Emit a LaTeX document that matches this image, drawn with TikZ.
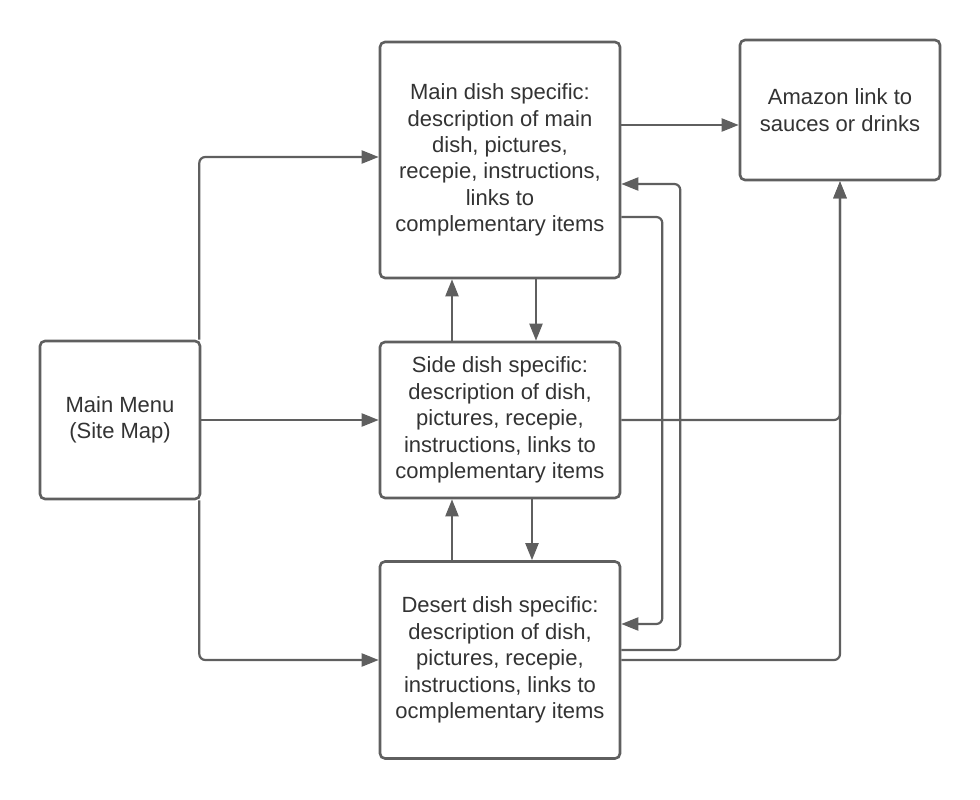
\documentclass[tikz,border=0pt]{standalone}
\usepackage{fontspec}
\setmainfont{Liberation Sans}
\usetikzlibrary{arrows.meta}
\definecolor{linegray}{HTML}{5F5F5F}
\definecolor{textgray}{HTML}{333333}
\begin{document}
\begin{tikzpicture}[x=1pt, y=-1pt,
    box/.style={draw=linegray, line width=2.6pt, rounded corners=5pt, fill=white, align=center, text=textgray, font=\fontsize{22}{26.4}\selectfont, inner sep=0pt},
    link/.style={draw=linegray, line width=2.2pt, rounded corners=6pt, -{Triangle[length=17pt, width=13pt]}}]
        \useasboundingbox (0,0) rectangle (980,800);
        \node[box, minimum width=240pt, minimum height=236pt] (main) at (500,160) {Main dish specific:\\description of main\\dish, pictures,\\recepie, instructions,\\links to\\complementary items};
        \node[box, minimum width=200pt, minimum height=140pt] (amazon) at (840,110) {Amazon link to\\sauces or drinks};
        \node[box, minimum width=160pt, minimum height=158pt] (menu) at (120,420) {Main Menu\\(Site Map)};
        \node[box, minimum width=240pt, minimum height=156pt] (side) at (500,420) {Side dish specific:\\description of dish,\\pictures, recepie,\\instructions, links to\\complementary items};
        \node[box, minimum width=240pt, minimum height=197pt] (desert) at (500,660) {Desert dish specific:\\description of dish,\\pictures, recepie,\\instructions, links to\\ocmplementary items};
        % Menu to pages
        \draw[link] ([xshift=-2pt]menu.north east) |- ([yshift=3pt]main.west);
        \draw[link] (menu.east) -- (side.west);
        \draw[link] ([xshift=-2pt]menu.south east) |- (desert.west);
        % Between pages
        \draw[link] ([xshift=-48pt]side.north) -- ([xshift=-48pt]main.south);
        \draw[link] ([xshift=36pt]main.south) -- ([xshift=36pt]side.north);
        \draw[link] ([xshift=-48pt]desert.north) -- ([xshift=-48pt]side.south);
        \draw[link] ([xshift=32pt]side.south) -- ([xshift=32pt]desert.north);
        \draw[link] ([yshift=-57pt]main.east) -- ++(41,0) |- ([yshift=36pt]desert.east);
        \draw[link] ([yshift=10pt]desert.east) -- ++(59,0) |- ([yshift=-24pt]main.east);
        % Amazon
        \draw[link] ([yshift=35pt]main.east) -- ([yshift=35pt]main.east -| amazon.west);
        \draw[link] (side.east) -| (amazon.south);
        \draw[link] (desert.east) -| (amazon.south);
\end{tikzpicture}
\end{document}
